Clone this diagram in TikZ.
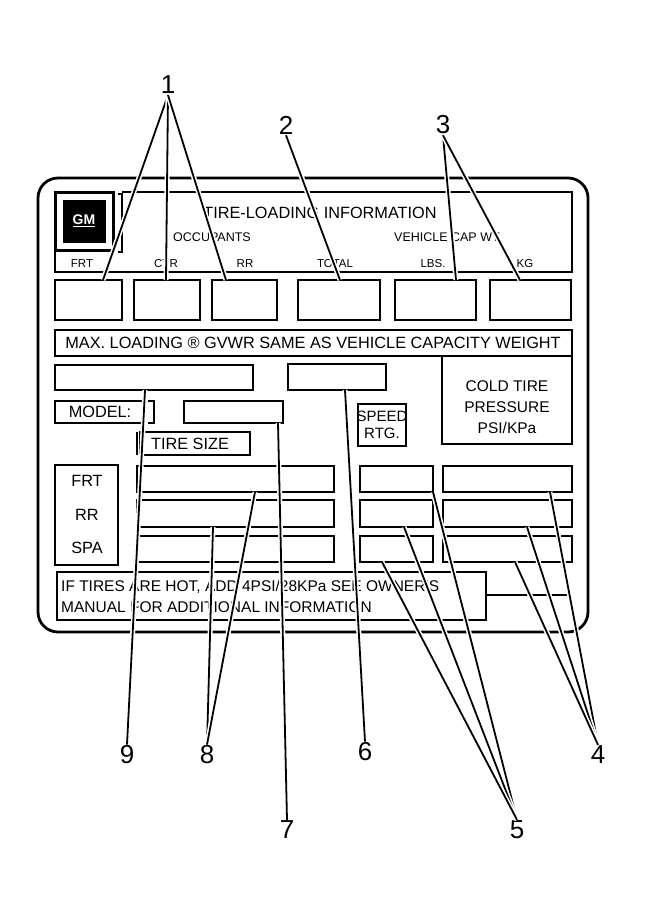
\documentclass[tikz,border=0pt]{standalone}
\usepackage{fontspec}
\setmainfont{Liberation Sans}
\begin{document}
\begin{tikzpicture}[x=1pt,y=-1pt,
  box/.style={draw,line width=2.2pt,inner sep=0,outer sep=0},
  thin/.style={line width=1.5pt},
  txt/.style={inner sep=0,font=\fontsize{16.3}{16}\selectfont},
  sm/.style={inner sep=0,font=\fontsize{11.5}{11}\selectfont},
  num/.style={inner sep=1pt,font=\fontsize{26}{26}\selectfont},
  lead/.style={line width=1.8pt,preaction={draw=white,line width=5pt}}]
\newcommand\bx[6][]{\node[box,#1,minimum width={#5-#3},minimum height={#6-#4}] (#2) at ({(#3+#5)/2},{(#4+#6)/2}) {};}
\useasboundingbox (0,0) rectangle (645,919);
% outer label
\draw[line width=2.8pt,rounded corners=20pt] (38,178) rectangle (588,632);
% GM logo
\bx[line width=3pt]{gm}{55}{192}{113}{250}
\node[fill=black,minimum size=43pt,inner sep=0] (gmin) at (gm) {};
\node[text=white,font=\bfseries\fontsize{14}{14}\selectfont] (gmt) at (gm) {\underline{GM}};
\draw[thin] (118,194) -- (122,194) -- (122,252) -- (118,252);
% header
\draw[box] (122,192) -- (572,192) -- (572,272) -- (55,272) -- (55,252);
\node[txt] (hd) at (320,213) {TIRE-LOADING INFORMATION};
\node[sm,font=\fontsize{12.5}{12}\selectfont] (occ) at (212,237) {OCCUPANTS};
\node[sm,font=\fontsize{12.5}{12}\selectfont] (veh) at (448,237) {VEHICLE CAP WT.};
\node[sm] (lfrt) at (82,264) {FRT};
\node[sm] (lctr) at (166,264) {CTR};
\node[sm] (lrr) at (245,264) {RR};
\node[sm] (ltot) at (335,264) {TOTAL};
\node[sm] (llbs) at (433,264) {LBS.};
\node[sm] (lkg) at (525,264) {KG};
% top boxes
\bx{b1}{55}{280}{122}{320}
\bx{b2}{134}{280}{200}{320}
\bx{b3}{212}{280}{277}{320}
\bx{b4}{298}{280}{380}{320}
\bx{b5}{395}{280}{476}{320}
\bx{b6}{490}{280}{571}{320}
% max loading
\bx[line width=1.6pt]{mx}{55}{330}{572}{356}
\node[txt] (mxt) at (313,343) {MAX. LOADING \symbol{"00AE} GVWR SAME AS VEHICLE CAPACITY WEIGHT};
\draw[line width=1.6pt] (442,356) -- (442,444) -- (572,444) -- (572,356);
\node[txt,align=center,font=\fontsize{15.5}{21}\selectfont] (cold) at (507,407) {COLD TIRE\\PRESSURE\\PSI/KPa};
\bx{f1}{55}{365}{253}{390}
\bx{f2}{288}{364}{386}{390}
\bx[line width=1.6pt]{mod}{55}{401}{145}{423}
\node[txt] (modt) at (100,412) {MODEL:};
\draw[thin] (148,401) -- (154,401) -- (154,423) -- (148,423);
\bx{f3}{184}{401}{283}{423}
\bx[line width=1.6pt]{ts}{140}{432}{250}{455}
\node[txt] (tst) at (190,444) {TIRE SIZE};
\draw[thin] (137,432) -- (137,455);
\bx[line width=1.6pt]{sp}{358}{404}{406}{446}
\node[txt,align=center,font=\fontsize{15}{17}\selectfont] (spt) at (382,425) {SPEED\\RTG.};
% rows
\bx[line width=1.6pt]{pos}{55}{465}{118}{565}
\node[txt] (pf) at (87,481) {FRT};
\node[txt] (pr) at (87,515) {RR};
\node[txt] (ps) at (87,548) {SPA};
\bx{r1a}{137}{466}{334}{492}
\bx{r2a}{137}{500}{334}{527}
\bx{r3a}{137}{536}{334}{562}
\bx{r1b}{360}{466}{433}{492}
\bx{r2b}{360}{500}{433}{527}
\bx{r3b}{360}{536}{433}{562}
\bx{r1c}{443}{466}{572}{492}
\bx{r2c}{443}{500}{572}{527}
\bx{r3c}{443}{536}{572}{562}
% note
\bx{nt}{57}{572}{486}{620}
\node[txt,anchor=west,align=left,font=\fontsize{15.5}{21}\selectfont] (ntt) at (61,596) {IF TIRES ARE HOT, ADD 4PSI/28KPa SEE OWNER'S\\MANUAL FOR ADDITIONAL INFORMATION};
\draw[thin] (486,595) -- (572,595);
% numbers
\node[num] (n1) at (168,85) {1};
\node[num] (n2) at (286,125) {2};
\node[num] (n3) at (443,125) {3};
\node[num] (n9) at (127,755) {9};
\node[num] (n8) at (207,755) {8};
\node[num] (n7) at (287,830) {7};
\node[num] (n6) at (365,752) {6};
\node[num] (n5) at (517,830) {5};
\node[num] (n4) at (598,755) {4};
% leaders
\coordinate (a1) at (103,280); \coordinate (a2) at (166,280); \coordinate (a3) at (226,280);
\coordinate (a4) at (340,280); \coordinate (a5) at (456,280); \coordinate (a6) at (520,280);
\coordinate (a9) at (145,390); \coordinate (a8a) at (213,527); \coordinate (a8b) at (255,492);
\coordinate (a7) at (278,423); \coordinate (a6b) at (345,390);
\coordinate (a5a) at (433,492); \coordinate (a5b) at (404,527); \coordinate (a5c) at (382,562);
\coordinate (a4a) at (550,492); \coordinate (a4b) at (527,527); \coordinate (a4c) at (515,562);
\draw[lead] (n1.south) -- (a1); \draw[lead] (n1.south) -- (a2); \draw[lead] (n1.south) -- (a3);
\draw[lead] (n2.south) -- (a4);
\draw[lead] (n3.south) -- (a5); \draw[lead] (n3.south) -- (a6);
\draw[lead] (n9.north) -- (a9);
\draw[lead] (n8.north) -- (a8a); \draw[lead] (n8.north) -- (a8b);
\draw[lead] (n7.north) -- (a7);
\draw[lead] (n6.north) -- (a6b);
\draw[lead] (n5.north) -- (a5a); \draw[lead] (n5.north) -- (a5b); \draw[lead] (n5.north) -- (a5c);
\draw[lead] (n4.north) -- (a4a); \draw[lead] (n4.north) -- (a4b); \draw[lead] (n4.north) -- (a4c);
\end{tikzpicture}
\end{document}
